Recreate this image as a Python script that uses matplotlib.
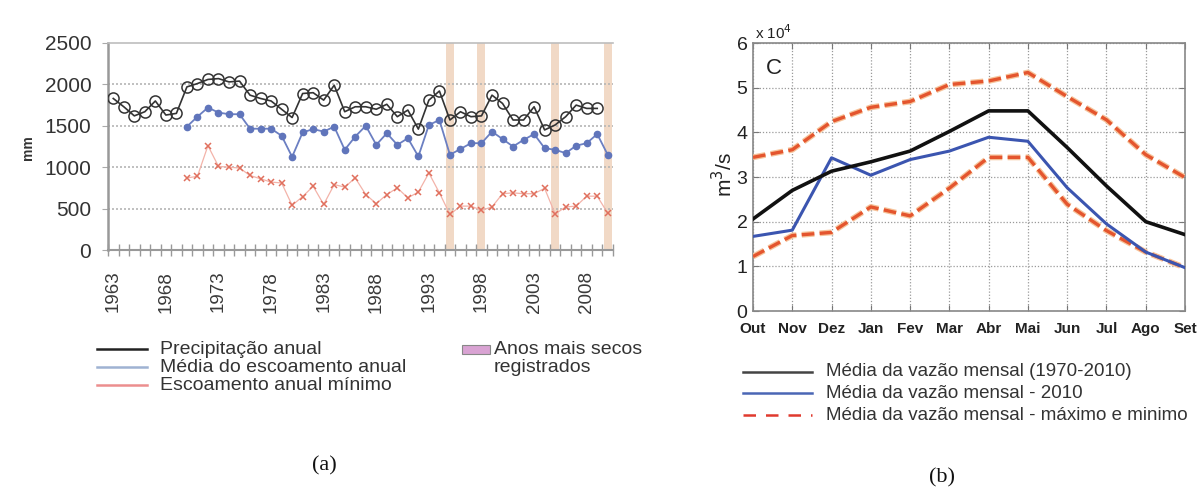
import matplotlib
matplotlib.use('Agg')
import matplotlib.pyplot as plt
from matplotlib.lines import Line2D
from matplotlib.patches import Rectangle
import matplotlib.patheffects as pe

plt.rcParams['font.family'] = ['Liberation Sans', 'DejaVu Sans']

# ---------------- data (a) ----------------
precip_years = list(range(1963, 2010))
precip = [1830, 1730, 1620, 1670, 1800, 1630, 1650,
          1970, 2010, 2060, 2070, 2030, 2040, 1870, 1830,
          1800, 1700, 1600, 1890, 1900, 1810, 1990, 1670, 1730, 1730,
          1700, 1760, 1610, 1690, 1460, 1810,
          1920, 1570, 1670, 1610, 1620, 1870, 1770, 1570, 1570, 1730,
          1450, 1510, 1610, 1750, 1710, 1710]
runoff_years = list(range(1970, 2011))
runoff_mean = [1490, 1610, 1720, 1660, 1640, 1640, 1465, 1465,
               1465, 1380, 1125, 1420, 1460, 1430, 1490, 1210, 1370, 1500,
               1270, 1410, 1270, 1350, 1130, 1510,
               1570, 1150, 1220, 1290, 1290, 1430, 1340, 1250, 1330, 1400,
               1230, 1210, 1170, 1260, 1290, 1400, 1150]
runoff_min = [870, 890, 1260, 1010, 1000, 990, 900, 860,
              820, 810, 540, 645, 770, 550, 790, 760, 870, 670,
              560, 670, 750, 630, 700, 930,
              690, 430, 530, 530, 480, 520, 680, 690, 680, 680,
              745, 435, 520, 530, 650, 650, 445]
dry_years = [1995, 1998, 2005, 2010]
year_labels = list(range(1963, 2010, 5))
left_yticks = [0, 500, 1000, 1500, 2000, 2500]

# ---------------- data (b) ----------------
months = ['Out', 'Nov', 'Dez', 'Jan', 'Fev', 'Mar', 'Abr', 'Mai', 'Jun', 'Jul', 'Ago', 'Set']
flow_mean = [2.06, 2.70, 3.13, 3.34, 3.58, 4.02, 4.48, 4.48, 3.66, 2.80, 2.00, 1.71]
flow_2010 = [1.67, 1.81, 3.43, 3.04, 3.39, 3.58, 3.89, 3.80, 2.76, 1.95, 1.32, 0.97]
flow_max = [3.44, 3.61, 4.24, 4.56, 4.69, 5.07, 5.15, 5.34, 4.80, 4.28, 3.50, 2.99]
flow_min = [1.22, 1.69, 1.76, 2.33, 2.13, 2.75, 3.44, 3.44, 2.39, 1.80, 1.32, 0.97]

W, H = 1204, 491
fig = plt.figure(figsize=(W / 100, H / 100), dpi=100)


def fx(px):
    return px / W


def fy(py):
    return 1 - py / H


# ================= (a) =================
axa = fig.add_axes([fx(108), fy(250), fx(613) - fx(108), fy(43) - fy(250)])
for yv in dry_years:
    axa.axvspan(yv - 0.38, yv + 0.38, color='#f1d9c6', zorder=0, lw=0)
for g in [500, 1000, 1500, 2000]:
    axa.axhline(g, color='#b5b5b5', lw=1.2, ls=(0, (1.2, 1.2)), zorder=1)

axa.plot(runoff_years, runoff_min, color='#f3b3a9', lw=0.9, zorder=2)
axa.plot(runoff_years, runoff_min, ls='none', marker='x', ms=5, mew=1.1,
         color='#e0705e', zorder=3)
axa.plot(runoff_years, runoff_mean, color='#6b7fc2', lw=1.3, marker='o', ms=4.5,
         mfc='#6075bb', mec='#6075bb', zorder=3)
axa.plot(precip_years, precip, color='#333333', lw=1.2, marker='o', ms=8,
         mfc='none', mec='#333333', mew=1.1, zorder=4)

axa.set_xlim(1962.5, 2010.5)
axa.set_ylim(0, 2500)
axa.set_yticks(left_yticks)
axa.set_yticklabels([str(v) for v in left_yticks], fontsize=15, color='#333333')
axa.tick_params(axis='y', length=4, color='#aaaaaa', pad=8)
axa.set_xticks(year_labels)
axa.set_xticklabels([str(v) for v in year_labels], rotation=90, fontsize=13.5,
                    color='#3a3a3a')
axa.tick_params(axis='x', which='major', length=0, pad=15)
axa.set_xticks([1962.5 + k for k in range(49)], minor=True)
axa.tick_params(axis='x', which='minor', direction='inout', length=8, width=1,
                color='#999999')
axa.spines['right'].set_visible(False)
axa.spines['top'].set_color('#bdbdbd')
axa.spines['top'].set_linewidth(1.2)
axa.spines['left'].set_color('#999999')
axa.spines['left'].set_linewidth(1.8)
axa.spines['bottom'].set_color('#999999')
axa.spines['bottom'].set_linewidth(1.5)
fig.text(fx(28), fy(148), 'mm', rotation=90, fontsize=10, fontweight='bold',
         ha='center', va='center', color='#333333')

# legend (a)
leg_a = [('#222222', 'Precipitação anual', 349),
         ('#9fb2d2', 'Média do escoamento anual', 367),
         ('#ec8e8e', 'Escoamento anual mínimo', 385)]
for col, txt, yy in leg_a:
    fig.add_artist(Line2D([fx(97), fx(147)], [fy(yy), fy(yy)], color=col, lw=1.8))
    fig.text(fx(160), fy(yy), txt, fontsize=14, va='center', ha='left',
             color='#333333')
fig.add_artist(Rectangle((fx(462), fy(354)), fx(28), fy(345) - fy(354),
                         transform=fig.transFigure, facecolor='#d9a3d3',
                         edgecolor='#888888', lw=0.8))
fig.text(fx(494), fy(349), 'Anos mais secos', fontsize=14, va='center',
         ha='left', color='#333333')
fig.text(fx(494), fy(367), 'registrados', fontsize=14, va='center',
         ha='left', color='#333333')
fig.text(fx(324), fy(466), '(a)', fontsize=16, family='Liberation Serif',
         ha='center', va='center', color='#111111')

# ================= (b) =================
axb = fig.add_axes([fx(753), fy(311), fx(1185) - fx(753), fy(43) - fy(311)])
x = list(range(len(months)))
halo = [pe.Stroke(linewidth=4.2, foreground='#f6c39a'), pe.Normal()]
axb.plot(x, flow_max, color='#e4552e', lw=2.4, ls=(0, (3.8, 1.6)),
         path_effects=halo, zorder=3)
axb.plot(x, flow_min, color='#e4552e', lw=2.4, ls=(0, (3.8, 1.6)),
         path_effects=halo, zorder=3)
axb.plot(x, flow_2010, color='#3b55b0', lw=2.2, zorder=4)
axb.plot(x, flow_mean, color='#111111', lw=2.6, zorder=5)
axb.set_xlim(0, 11)
axb.set_ylim(0, 6)
axb.set_xticks(x)
axb.set_xticklabels(months, fontsize=11, fontweight='bold', color='#222222')
for lab in axb.get_xticklabels():
    lab.set_verticalalignment('baseline')
axb.set_yticks(range(7))
axb.set_yticklabels([str(v) for v in range(7)], fontsize=14, color='#222222')
axb.tick_params(direction='in', length=4, color='#777777', top=True, right=True)
axb.tick_params(axis='y', pad=4)
axb.tick_params(axis='x', pad=16)
axb.grid(True, color='#9a9a9a', lw=0.9, ls=(0, (1, 1.5)))
for s in axb.spines.values():
    s.set_color('#888888')
    s.set_linewidth(1.2)
axb.text(0.03, 0.905, 'C', transform=axb.transAxes, fontsize=16, color='#222222',
         ha='left', va='center')
fig.text(fx(755), fy(33), r'x 10$^4$', fontsize=11, color='#222222', ha='left',
         va='center')
fig.text(fx(724), fy(175), r'm$^3$/s', rotation=90, fontsize=15, color='#222222',
         ha='center', va='center')

leg_b = [('#444444', '-', 'Média da vazão mensal (1970-2010)', 372),
         ('#4a66b5', '-', 'Média da vazão mensal - 2010', 393),
         ('#e03a2e', '--', 'Média da vazão mensal - máximo e minimo', 415)]
for col, ls, txt, yy in leg_b:
    fig.add_artist(Line2D([fx(743), fx(812)], [fy(yy), fy(yy)], color=col, lw=1.8,
                          ls=(0, (5, 4)) if ls == '--' else '-'))
    fig.text(fx(826), fy(yy), txt, fontsize=13.5, va='center', ha='left',
             color='#333333')
fig.text(fx(942), fy(478), '(b)', fontsize=16, family='Liberation Serif',
         ha='center', va='center', color='#111111')

fig.savefig('out.png', dpi=100)
